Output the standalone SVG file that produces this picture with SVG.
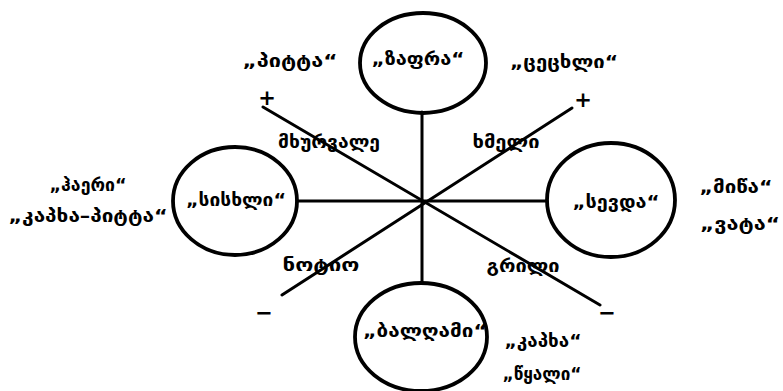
<svg xmlns="http://www.w3.org/2000/svg" width="783" height="391" viewBox="0 0 783 391">
<style>
.bg{fill:#fff}
.node{fill:none;stroke:#000;stroke-width:3.8}
.con line{stroke:#000;stroke-width:3;stroke-linecap:round}
text{font-family:"DejaVu Sans","Noto Sans",sans-serif;font-weight:bold;font-size:17px;fill:#000;text-anchor:middle}
.sign{font-size:21px}
</style>
<rect class="bg" width="783" height="391"/>
<g id="connectors" class="con">
<line x1="422" y1="112" x2="422" y2="283"/>
<line x1="297" y1="201" x2="547" y2="201"/>
<line x1="263" y1="107" x2="600" y2="305"/>
<line x1="282" y1="295" x2="572" y2="108"/>
</g>
<g id="node-zafra">
<ellipse class="node" cx="423" cy="63" rx="63" ry="50"/>
<text x="418" y="65" textLength="93" lengthAdjust="spacingAndGlyphs">„ზაფრა“</text>
</g>
<g id="node-siskhli">
<ellipse class="node" cx="235" cy="201" rx="62" ry="54"/>
<text x="236" y="206" textLength="100" lengthAdjust="spacingAndGlyphs">„სისხლი“</text>
</g>
<g id="node-sevda">
<ellipse class="node" cx="611" cy="200" rx="64" ry="57"/>
<text x="616" y="208" textLength="87" lengthAdjust="spacingAndGlyphs">„სევდა“</text>
</g>
<g id="node-balghami">
<ellipse class="node" cx="421" cy="337" rx="66" ry="54"/>
<text x="425" y="337" textLength="124" lengthAdjust="spacingAndGlyphs">„ბალღამი“</text>
</g>
<g id="axis-labels">
<text x="329" y="148" textLength="102" lengthAdjust="spacingAndGlyphs">მხურვალე</text>
<text x="506" y="148" textLength="67" lengthAdjust="spacingAndGlyphs">ხმელი</text>
<text x="321" y="271" textLength="77" lengthAdjust="spacingAndGlyphs">ნოტიო</text>
<text x="523" y="272" textLength="73" lengthAdjust="spacingAndGlyphs">გრილი</text>
<text class="sign" x="267" y="105">+</text>
<text class="sign" x="583" y="107">+</text>
<text class="sign" x="264" y="320">−</text>
<text class="sign" x="607" y="320">−</text>
</g>
<g id="outer-labels">
<text x="290" y="67" textLength="95" lengthAdjust="spacingAndGlyphs">„პიტტა“</text>
<text x="564" y="68" textLength="108" lengthAdjust="spacingAndGlyphs">„ცეცხლი“</text>
<text x="88" y="191" textLength="77" lengthAdjust="spacingAndGlyphs">„ჰაერი“</text>
<text x="88" y="222" textLength="159" lengthAdjust="spacingAndGlyphs">„კაპხა–პიტტა“</text>
<text x="736" y="193" textLength="73" lengthAdjust="spacingAndGlyphs">„მიწა“</text>
<text x="740" y="230" textLength="80" lengthAdjust="spacingAndGlyphs">„ვატა“</text>
<text x="543" y="347" textLength="77" lengthAdjust="spacingAndGlyphs">„კაპხა“</text>
<text x="542" y="380" textLength="79" lengthAdjust="spacingAndGlyphs">„წყალი“</text>
</g>
</svg>
